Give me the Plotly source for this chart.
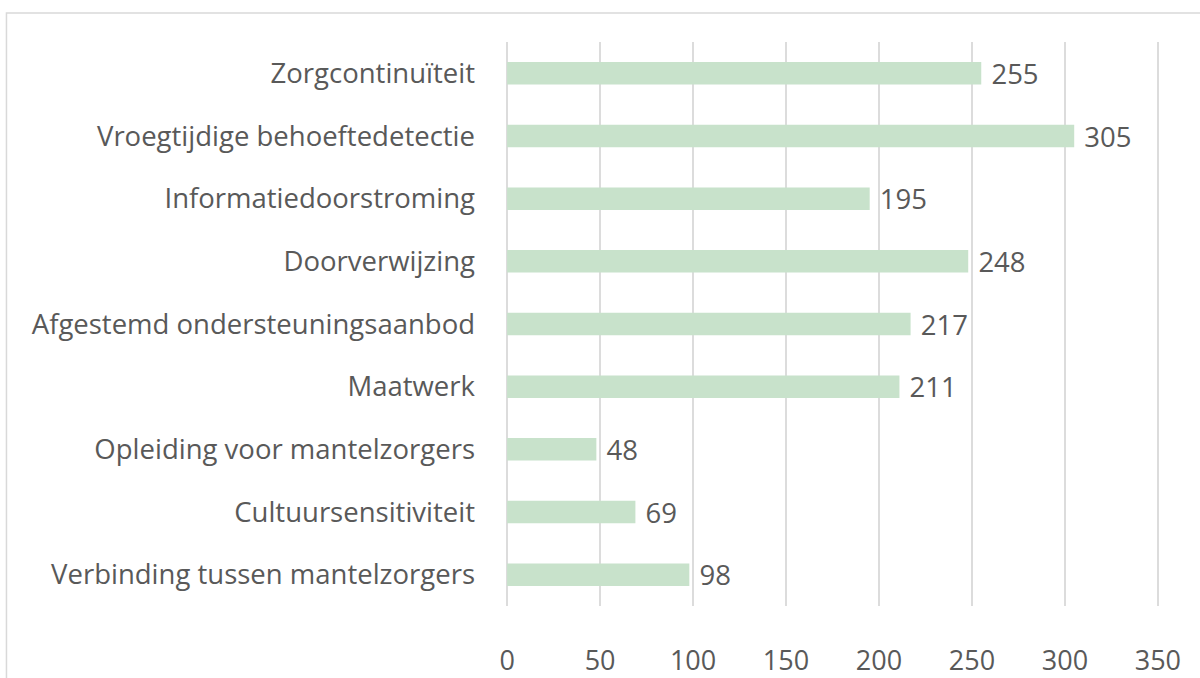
import plotly.graph_objects as go

categories = ["Zorgcontinuïteit", "Vroegtijdige behoeftedetectie", "Informatiedoorstroming",
              "Doorverwijzing", "Afgestemd ondersteuningsaanbod", "Maatwerk",
              "Opleiding voor mantelzorgers", "Cultuursensitiviteit", "Verbinding tussen mantelzorgers"]
values = [255, 305, 195, 248, 217, 211, 48, 69, 98]
x_ticks = [0, 50, 100, 150, 200, 250, 300, 350]

FONT = "Open Sans, Noto Sans, sans-serif"
GREY = "#595959"

fig = go.Figure(go.Bar(
    y=categories, x=values, orientation="h",
    marker=dict(color="#c8e2cb", line=dict(width=0)),
    width=0.36,
    text=[f" {v}" for v in values], textposition="outside", cliponaxis=False,
    constraintext="none",
    textfont=dict(family=FONT, size=27.5, color=GREY),
))

fig.update_layout(
    width=1200, height=678,
    margin=dict(l=506, r=41, t=42, b=72, autoexpand=False),
    paper_bgcolor="white", plot_bgcolor="white",
    showlegend=False,
    font=dict(family=FONT, color=GREY),
    xaxis=dict(range=[-0.6, 350.6], tickvals=x_ticks, showgrid=True, gridcolor="#dcdcdc", gridwidth=1.5,
               zeroline=False, showline=False, tickfont=dict(size=27, color=GREY),
               ticks="", ticklabelstandoff=36, automargin=False),
    yaxis=dict(autorange="reversed", showgrid=False, zeroline=False, showline=False,
               tickfont=dict(size=27.5, color=GREY), ticks="", ticklabelstandoff=30, automargin=False),
    bargap=0.64,
    shapes=[dict(type="rect", xref="paper", yref="paper", x0=-0.765, x1=1.2, y0=-0.3, y1=1.0514,
                 line=dict(color="#d9d9d9", width=1.5), fillcolor="rgba(0,0,0,0)", layer="below")],
)

fig.write_html("out.html", config={"displayModeBar": False},
               post_script="document.body.style.margin='0';document.body.style.overflow='hidden';")
